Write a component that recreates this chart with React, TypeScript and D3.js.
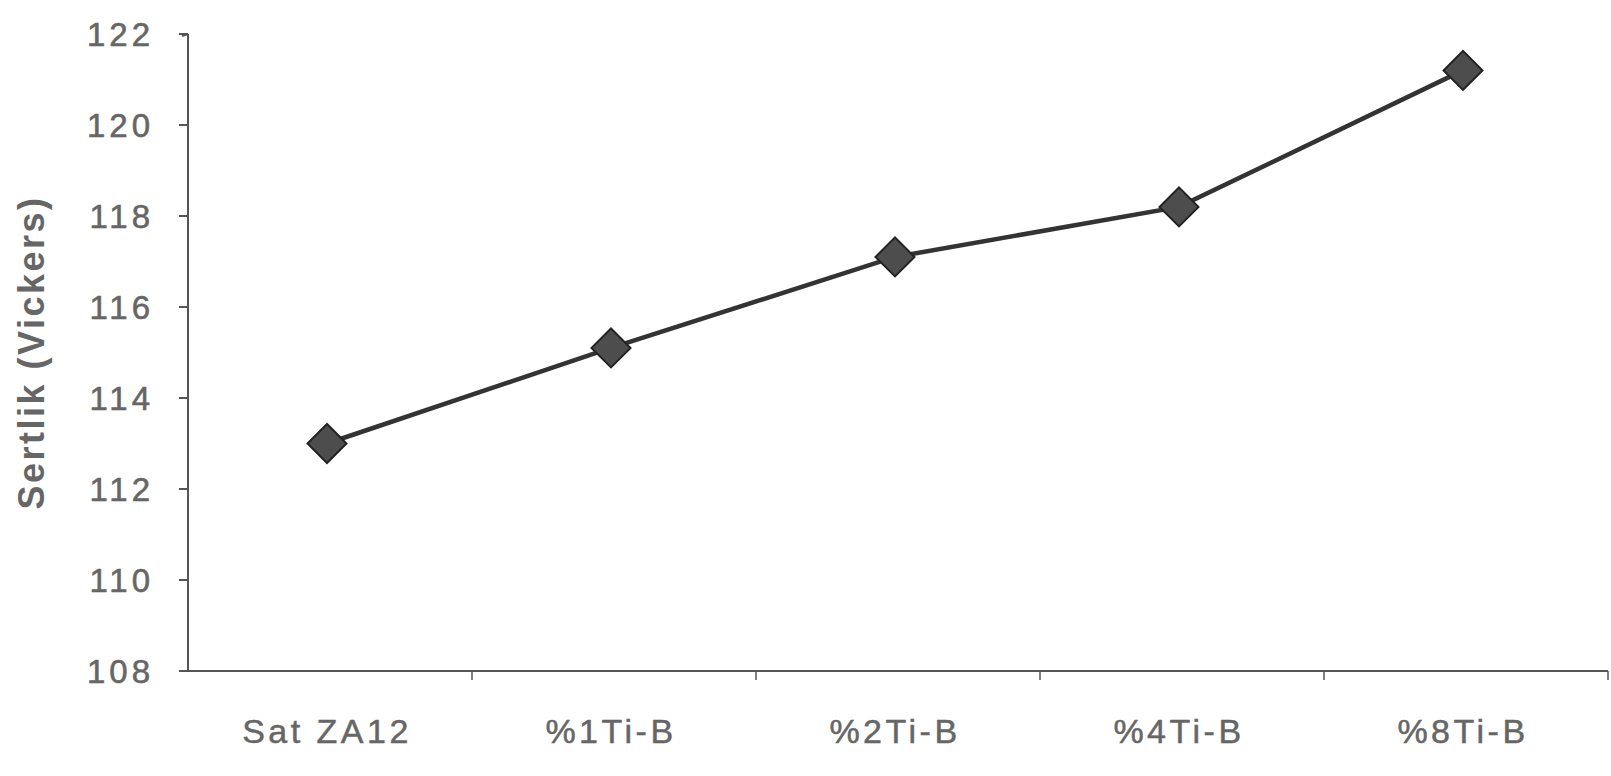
import React from "react";
import * as d3 from "d3";

// Hardness of ZA12 alloy with Ti-B additions
const categories = ["Sat ZA12", "%1Ti-B", "%2Ti-B", "%4Ti-B", "%8Ti-B"];
const hardness = [113.0, 115.1, 117.1, 118.2, 121.2];
const yTicks = [108, 110, 112, 114, 116, 118, 120, 122];
const yTitle = "Sertlik (Vickers)";

const W = 1611;
const H = 776;
const left = 188;
const right = 1608;
const top = 34;
const bottom = 671;

const textColor = "#666";
const axisColor = "#555";
const font = "'Liberation Sans', Arial, sans-serif";

export default function App() {
  const x = d3.scaleBand<string>().domain(categories).range([left, right]).padding(0);
  const y = d3.scaleLinear().domain([108, 122]).range([bottom, top]);
  const cx = (c: string) => (x(c) as number) + x.bandwidth() / 2;

  const pts = categories.map((c, i) => [cx(c) - 3, y(hardness[i])] as [number, number]);
  const linePath = d3.line()(pts) || "";
  const diamond = d3.symbol().type(d3.symbolSquare).size(760)() || "";

  const boundaries = categories.slice(1).map((c) => x(c) as number);

  return (
    <svg
      width={W}
      height={H}
      style={{ position: "fixed", left: 0, top: 0, background: "#fff" }}
      fontFamily={font}
    >
      <rect x={0} y={0} width={W} height={H} fill="#fff" />

      {/* y axis */}
      <line x1={left} x2={left} y1={y(108)} y2={y(122)} stroke={axisColor} strokeWidth={2} />
      <line x1={left} x2={left - 6} y1={y(122)} y2={y(122) + 2} stroke={axisColor} strokeWidth={2} />
      {yTicks.map((t) => (
        <g key={t}>
          <line x1={left - 9} x2={left} y1={y(t)} y2={y(t)} stroke={axisColor} strokeWidth={2} />
          <text
            x={154}
            y={y(t)}
            textAnchor="end"
            dominantBaseline="central"
            fontSize={33}
            letterSpacing={4}
            fill={textColor}
            stroke={textColor}
            strokeWidth={0.6}
          >
            {t}
          </text>
        </g>
      ))}

      {/* x axis */}
      <line x1={left} x2={right} y1={y(108)} y2={y(108)} stroke={axisColor} strokeWidth={2} />
      {boundaries.map((b, i) => (
        <line key={i} x1={b} x2={b} y1={y(108)} y2={y(108) + 9} stroke={axisColor} strokeWidth={1.5} />
      ))}
      <line x1={right} x2={right} y1={y(108)} y2={y(108) + 9} stroke={axisColor} strokeWidth={1.5} />
      {categories.map((c) => (
        <text
          key={c}
          x={cx(c) - 3}
          y={731}
          textAnchor="middle"
          dominantBaseline="central"
          fontSize={34}
          letterSpacing={3.5}
          fill={textColor}
          stroke={textColor}
          strokeWidth={0.5}
        >
          {c}
        </text>
      ))}

      {/* y title */}
      <text
        transform={`translate(31, ${(y(108) + y(122)) / 2}) rotate(-90)`}
        textAnchor="middle"
        dominantBaseline="central"
        fontSize={36}
        fontWeight="bold"
        letterSpacing={2.5}
        fill={textColor}
      >
        {yTitle}
      </text>

      {/* series */}
      <path d={linePath} fill="none" stroke="#333" strokeWidth={4.5} />
      {pts.map(([px, py], i) => (
        <path
          key={i}
          d={diamond}
          transform={`translate(${px},${py}) rotate(45)`}
          fill="#4d4d4d"
          stroke="#222"
          strokeWidth={2}
        />
      ))}
    </svg>
  );
}
